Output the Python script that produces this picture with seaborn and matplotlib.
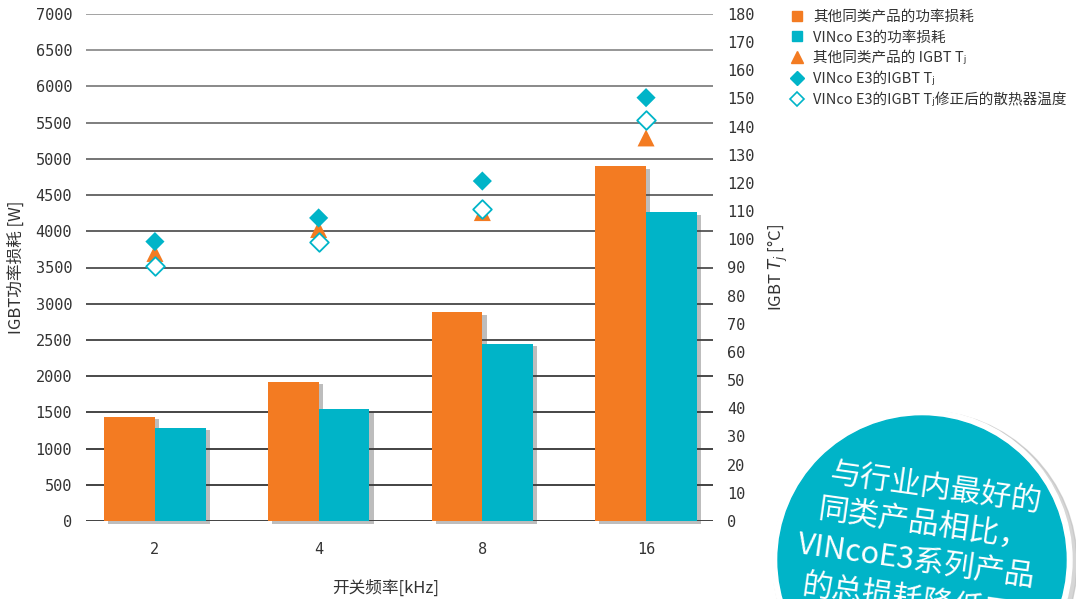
import numpy as np
import pandas as pd
import seaborn as sns
import matplotlib
matplotlib.use("Agg")
import matplotlib.pyplot as plt
import matplotlib.patheffects as pe
from matplotlib.lines import Line2D
from matplotlib.patches import Circle

# ---- data ----
freqs = ["2", "4", "8", "16"]
loss_other = [1440, 1925, 2880, 4900]
loss_vinco = [1290, 1550, 2450, 4260]
tj_other = [95, 103.5, 109.5, 136]
tj_vinco = [99.2, 107.6, 120.7, 150.3]
tj_heatsink = [90.5, 99.2, 110.7, 142.4]
series_names = ["其他同类产品的功率损耗", "VINco E3的功率损耗"]
legend_labels = ["其他同类产品的功率损耗", "VINco E3的功率损耗",
                 "其他同类产品的 IGBT Tⱼ",
                 "VINco E3的IGBT Tⱼ",
                 "VINco E3的IGBT Tⱼ修正后的散热器温度"]
bubble_lines = ["与行业内最好的", "同类产品相比，", "VINcoE3系列产品", "的总损耗降低了"]

ORANGE = "#F37B22"
TEAL = "#00B4C8"
TXT = "#333333"

sns.set_style("white")
plt.rcParams['font.family'] = ['Noto Sans CJK SC', 'DejaVu Sans']
plt.rcParams['axes.unicode_minus'] = False

df = pd.DataFrame({
    "freq": freqs * 2,
    "loss": loss_other + loss_vinco,
    "series": [series_names[0]] * 4 + [series_names[1]] * 4,
})

fig = plt.figure(figsize=(10.76, 5.99), dpi=100)
ax = fig.add_axes([86/1076, 1-521/599, (713-86)/1076, (521-14)/599])

sns.barplot(data=df, x="freq", y="loss", hue="series", palette=[ORANGE, TEAL],
            width=0.62, ax=ax, legend=False, saturation=1, zorder=3,
            edgecolor="none", linewidth=0)
for p in ax.patches:
    p.set_path_effects([pe.SimplePatchShadow(offset=(3, -2), shadow_rgbFace="#444444", alpha=0.35),
                        pe.Normal()])
    p.set_clip_on(False)

ax.set_ylim(0, 7000)
ax.set_xlim(-0.421, 3.409)
ax.set_yticks(np.arange(0, 7001, 500))
ax.yaxis.grid(True, color="#3a3a3a", linewidth=1.2, zorder=0)
ax.set_axisbelow(True)
glines = ax.get_ygridlines()
n = len(glines)
for i, gl in enumerate(glines):
    shade = 0.13 + 0.45 * (i / (n - 1)) ** 2
    gl.set_color((shade, shade, shade))
for s in ax.spines.values():
    s.set_visible(False)
ax.tick_params(axis="both", length=0, labelsize=11, colors=TXT)
ax.tick_params(axis="y", pad=10)
ax.tick_params(axis="x", pad=15)
for lab in ax.get_yticklabels() + ax.get_xticklabels():
    lab.set_family(['DejaVu Sans Mono'])
ax.set_xlabel("开关频率[kHz]", fontsize=12, color=TXT)
ax.xaxis.set_label_coords((386 - 86) / 627, -0.115)
ax.set_ylabel("IGBT功率损耗 [W]", fontsize=12, color=TXT, labelpad=8)

ax2 = ax.twinx()
ax2.set_ylim(0, 180)
ax2.set_yticks(np.arange(0, 181, 10))
pos = np.arange(len(freqs))
sns.scatterplot(x=pos, y=tj_other, marker="^", s=150, color=ORANGE, edgecolor="none", ax=ax2, zorder=4)
sns.scatterplot(x=pos, y=tj_vinco, marker="D", s=95, color=TEAL, edgecolor="none", ax=ax2, zorder=4)
sns.scatterplot(x=pos, y=tj_heatsink, marker="D", s=90, facecolor="white", edgecolor=TEAL,
                linewidth=1.3, ax=ax2, zorder=5)
ax2.set_xlim(-0.421, 3.409)
for s in ax2.spines.values():
    s.set_visible(False)
ax2.tick_params(axis="y", length=0, labelsize=11, colors=TXT, pad=10)
for lab in ax2.get_yticklabels():
    lab.set_family(['DejaVu Sans Mono'])
ax2.set_ylabel("IGBT $T_j$ [°C]", fontsize=12, color=TXT, labelpad=8)

handles = [
    Line2D([], [], marker="s", linestyle="none", color=ORANGE, markersize=7),
    Line2D([], [], marker="s", linestyle="none", color=TEAL, markersize=7),
    Line2D([], [], marker="^", linestyle="none", color=ORANGE, markersize=9),
    Line2D([], [], marker="D", linestyle="none", color=TEAL, markersize=7),
    Line2D([], [], marker="D", linestyle="none", markerfacecolor="white",
           markeredgecolor=TEAL, markeredgewidth=1.2, markersize=7),
]
leg = fig.legend(handles, legend_labels, loc="upper left", bbox_to_anchor=(784/1076, 1-4/599),
                 frameon=False, fontsize=10.5, handlelength=1.0, handletextpad=0.6,
                 labelspacing=0.45, borderaxespad=0)
for t in leg.get_texts():
    t.set_color(TXT)

# bubble
cx, cy, r = 922, 560, 150
bub_ax = fig.add_axes([0, 0, 1, 1], zorder=10)
bub_ax.set_xlim(0, 1076)
bub_ax.set_ylim(599, 0)
bub_ax.axis("off")
bub_ax.patch.set_alpha(0)
bub_ax.add_patch(Circle((cx + 3, cy + 3), r + 2, color="#bbbbbb", alpha=0.6))
bub_ax.add_patch(Circle((cx, cy), r, color="white"))
bub_ax.add_patch(Circle((cx, cy), r - 6, color=TEAL))
line_centers = [(935, 488), (924, 524), (916, 562), (908, 600)]
for txt, (x, y) in zip(bubble_lines, line_centers):
    bub_ax.text(x, y, txt, color="white", fontsize=22, ha="center", va="center",
                rotation=-8, rotation_mode="anchor")

fig.savefig("out.png", dpi=100)
